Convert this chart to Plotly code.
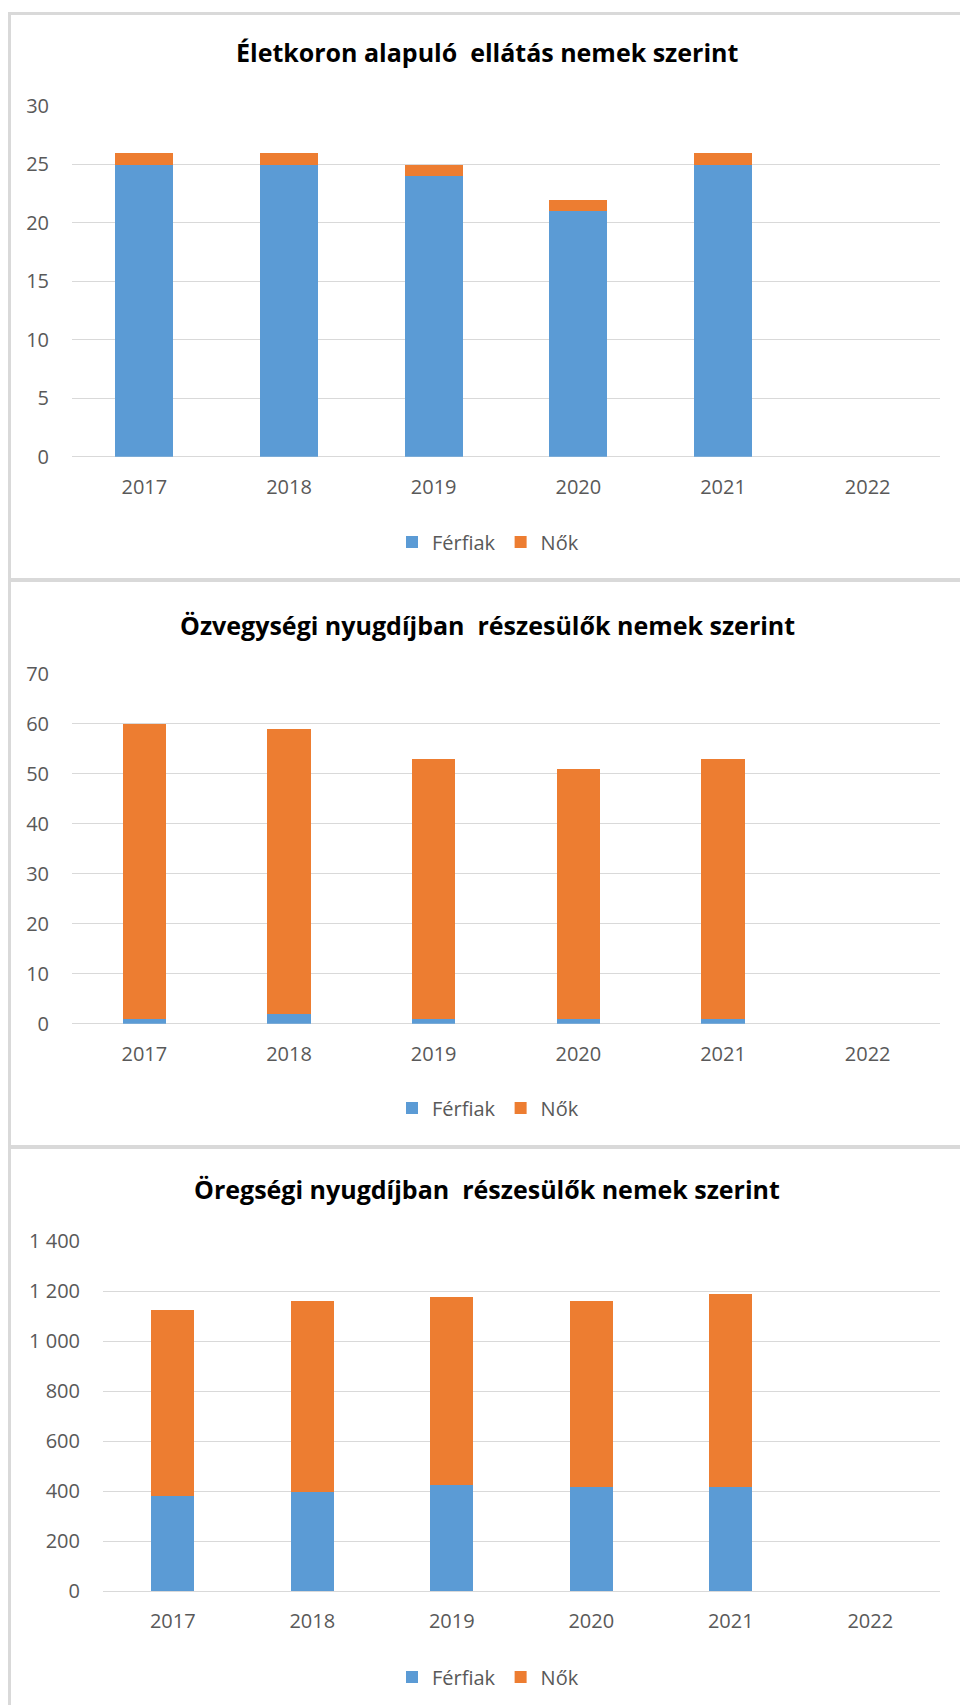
import plotly.graph_objects as go

# Years on the category axis (2022 has no data yet)
years = ["2017", "2018", "2019", "2020", "2021", "2022"]

# Életkoron alapuló ellátás
eletkor_ferfiak = [25, 25, 24, 21, 25, None]
eletkor_nok = [1, 1, 1, 1, 1, None]

# Özvegységi nyugdíj
ozvegy_ferfiak = [1, 2, 1, 1, 1, None]
ozvegy_nok = [59, 57, 52, 50, 52, None]

# Öregségi nyugdíj
oreg_ferfiak = [381, 397, 423, 417, 417, None]
oreg_nok = [743, 764, 754, 744, 770, None]

titles = [
    "Életkoron alapuló  ellátás nemek szerint",
    "Özvegységi nyugdíjban  részesülők nemek szerint",
    "Öregségi nyugdíjban  részesülők nemek szerint",
]
series_names = ["Férfiak", "Nők"]

BLUE = "#5b9bd5"
ORANGE = "#ed7d31"
GRID = "#d9d9d9"
TEXT = "#595959"
FONT = "Open Sans"

W, H = 960, 1705


def px_x(x):
    return x / W


def px_y(y):
    return 1 - y / H


# panel geometry in pixels: plot-area left/right, top/bottom, y range, dtick, bar width
panels = [
    dict(left=72, right=940, top=105.5, bottom=456.7, ymax=30, dtick=5, bw=0.40,
         data=(eletkor_ferfiak, eletkor_nok), title_y=52, legend_y=542),
    dict(left=72, right=940, top=673.7, bottom=1023.7, ymax=70, dtick=10, bw=0.30,
         data=(ozvegy_ferfiak, ozvegy_nok), title_y=625, legend_y=1108),
    dict(left=103, right=940, top=1241, bottom=1591, ymax=1400, dtick=200, bw=0.31,
         data=(oreg_ferfiak, oreg_nok), title_y=1189, legend_y=1677),
]

fig = go.Figure()
layout = dict(
    width=W, height=H, autosize=False,
    margin=dict(l=0, r=0, t=0, b=0, pad=0, autoexpand=False),
    paper_bgcolor="white", plot_bgcolor="white",
    barmode="stack", bargap=0,
    separators=", ",
    font=dict(family=FONT, color=TEXT, size=20),
    annotations=[], shapes=[],
)

legend_keys = ["legend", "legend2", "legend3"]
for i, p in enumerate(panels):
    n = "" if i == 0 else str(i + 1)
    xa, ya = "x" + n, "y" + n
    for vals, name, color in zip(p["data"], series_names, [BLUE, ORANGE]):
        fig.add_trace(go.Bar(
            x=years, y=vals, name=name, marker=dict(color=color, line=dict(width=0)),
            width=p["bw"], xaxis=xa, yaxis=ya, legend=legend_keys[i],
        ))
    layout["xaxis" + n] = dict(
        domain=[px_x(p["left"]), px_x(p["right"])], anchor=ya, automargin=False,
        type="category", categoryorder="array", categoryarray=years,
        range=[-0.5, 5.5], showgrid=False, showline=False, zeroline=False,
        ticks="outside", ticklen=12, tickcolor="rgba(0,0,0,0)",
        tickfont=dict(size=20, color=TEXT, family=FONT), fixedrange=True,
    )
    layout["yaxis" + n] = dict(
        domain=[px_y(p["bottom"]), px_y(p["top"])], anchor=xa, automargin=False,
        range=[0, p["ymax"]], dtick=p["dtick"], tick0=0, tickformat=",d",
        showgrid=True, gridcolor=GRID, gridwidth=1,
        zeroline=True, zerolinecolor=GRID, zerolinewidth=1, showline=False,
        ticks="outside", ticklen=18, tickcolor="rgba(0,0,0,0)",
        tickfont=dict(size=20, color=TEXT, family=FONT), fixedrange=True,
    )
    layout[legend_keys[i]] = dict(
        orientation="h", x=px_x(488), xanchor="center",
        y=px_y(p["legend_y"]), yanchor="middle",
        font=dict(size=20, color=TEXT, family=FONT),
        bgcolor="rgba(0,0,0,0)", itemwidth=30, traceorder="normal",
    )
    layout["annotations"].append(dict(
        text="<b>" + titles[i] + "</b>", x=px_x(487), y=px_y(p["title_y"]),
        xref="paper", yref="paper", xanchor="center", yanchor="middle",
        showarrow=False, font=dict(size=25, color="#000000", family=FONT),
    ))

# chart-area borders and separators between the three charts
border = dict(color=GRID, width=3)
layout["shapes"] += [
    dict(type="line", xref="paper", yref="paper", x0=px_x(8), x1=1,
         y0=px_y(13.5), y1=px_y(13.5), line=border),
    dict(type="line", xref="paper", yref="paper", x0=px_x(9.5), x1=px_x(9.5),
         y0=px_y(12), y1=0, line=border),
    dict(type="line", xref="paper", yref="paper", x0=px_x(8), x1=1,
         y0=px_y(580), y1=px_y(580), line=dict(color=GRID, width=4)),
    dict(type="line", xref="paper", yref="paper", x0=px_x(8), x1=1,
         y0=px_y(1147), y1=px_y(1147), line=dict(color=GRID, width=4)),
]

fig.update_layout(**layout)
fig.write_html("out.html")
